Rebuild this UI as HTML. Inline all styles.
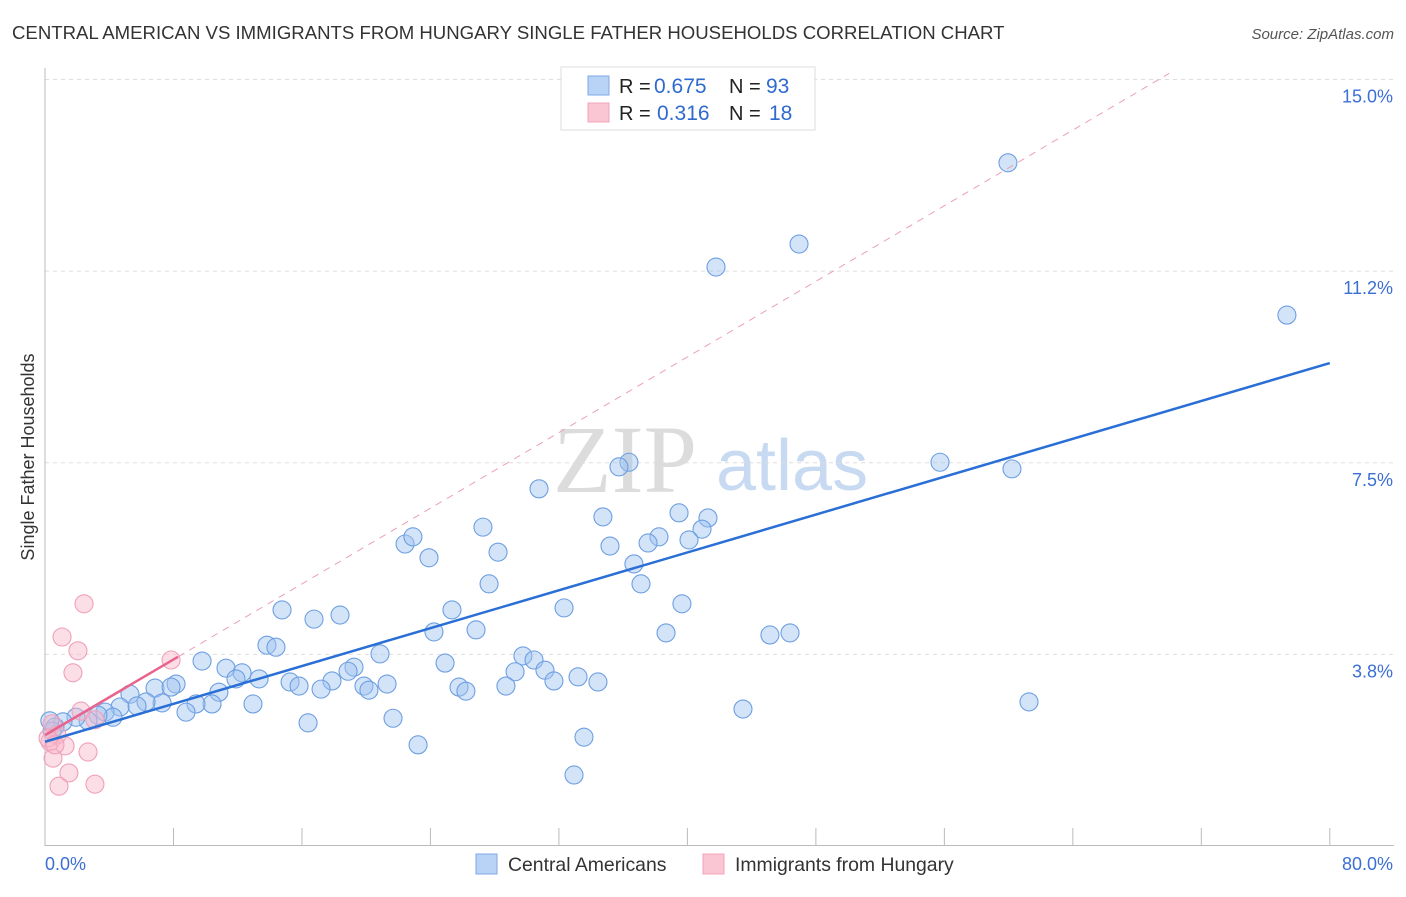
<!DOCTYPE html>
<html><head><meta charset="utf-8"><style>
body{margin:0;background:#fff;font-family:"Liberation Sans",sans-serif;}
svg text{font-family:"Liberation Sans",sans-serif;}
</style></head><body>
<svg id="chart" width="1406" height="892" xmlns="http://www.w3.org/2000/svg">
<text x="12" y="39" font-size="18.6" fill="#333">CENTRAL AMERICAN VS IMMIGRANTS FROM HUNGARY SINGLE FATHER HOUSEHOLDS CORRELATION CHART</text>
<text x="1394" y="39" font-size="15" fill="#555" font-style="italic" text-anchor="end">Source: ZipAtlas.com</text>
<g>
<text x="553" y="492" font-size="96" style="font-family:'Liberation Serif',serif" fill="#dcdcdc">ZIP</text>
<text x="716" y="490" font-size="72" fill="#c8daf2">atlas</text>
</g>
<text transform="translate(34,457) rotate(-90)" font-size="18" fill="#333" text-anchor="middle">Single Father Households</text>
<g id="grid"></g>
<g id="axes"></g>
<g id="marks"></g>
<g>
<rect x="561" y="67" width="254" height="63" fill="#fff" stroke="#ddd"/>
<rect x="588" y="76" width="21" height="19" fill="#b8d3f5" stroke="#7eaae6"/>
<rect x="588" y="103" width="21" height="19" fill="#fbc6d4" stroke="#f0a4ba"/>
<text x="619" y="93" font-size="20" fill="#222">R = <tspan x="654" fill="#2f6ad0" font-size="21">0.675</tspan><tspan x="729">N = </tspan><tspan x="766" fill="#2f6ad0" font-size="21">93</tspan></text>
<text x="619" y="120" font-size="20" fill="#222">R = <tspan x="657" fill="#2f6ad0" font-size="21">0.316</tspan><tspan x="729">N = </tspan><tspan x="769" fill="#2f6ad0" font-size="21">18</tspan></text>
</g>
<g>
<rect x="476" y="854" width="21" height="20" fill="#b8d3f5" stroke="#7eaae6"/>
<text x="508" y="871" font-size="19.4" fill="#333">Central Americans</text>
<rect x="703" y="854" width="21" height="20" fill="#fbc6d4" stroke="#f0a4ba"/>
<text x="735" y="871" font-size="19.4" fill="#333">Immigrants from Hungary</text>
</g>
</svg>
<script>
const blueX=[59.96,46.95,41.78,77.33,55.73,60.21,36.36,35.74,30.76,34.74,27.27,39.48,41.28,40.91,40.10,38.23,37.55,35.18,22.42,22.91,28.21,23.91,36.67,27.65,37.11,39.66,32.32,14.76,25.34,16.75,18.37,24.22,26.84,38.67,45.14,46.39,13.82,14.38,20.86,24.91,29.76,30.45,29.27,31.13,9.78,11.27,12.27,19.24,18.87,33.19,34.43,31.69,11.89,13.33,15.26,15.82,17.87,21.30,19.86,20.17,17.19,28.70,25.78,26.21,8.16,6.85,7.85,5.29,10.83,12.95,10.40,9.40,8.78,7.29,6.29,5.73,4.67,3.74,4.23,3.30,2.68,1.93,1.12,0.62,0.44,16.38,21.67,43.46,61.27,23.23,33.56,32.94,0.3];
const blueY=[13.37,11.78,11.33,10.39,7.51,7.38,7.51,7.42,6.99,6.44,6.24,6.52,6.42,6.20,5.99,6.05,5.93,5.87,5.91,6.05,5.75,5.64,5.52,5.13,5.13,4.74,4.66,4.62,4.62,4.44,4.52,4.19,4.23,4.17,4.13,4.17,3.93,3.89,3.76,3.58,3.72,3.64,3.41,3.44,3.62,3.48,3.39,3.50,3.42,3.31,3.21,3.23,3.27,3.27,3.21,3.13,3.23,3.17,3.13,3.05,3.07,3.13,3.11,3.03,3.17,3.09,3.11,2.97,3.01,2.78,2.78,2.78,2.62,2.80,2.82,2.74,2.72,2.62,2.52,2.56,2.45,2.52,2.43,2.33,2.25,2.41,2.50,2.68,2.82,1.98,2.13,1.39,2.45];
const pinkX=[2.43,1.06,2.05,1.74,7.85,2.24,3.11,0.44,0.75,0.31,1.25,0.50,2.68,1.49,0.87,3.11,0.19,0.62];
const pinkY=[4.74,4.09,3.82,3.39,3.64,2.64,2.47,2.39,2.17,2.04,1.96,1.72,1.84,1.43,1.17,1.21,2.11,1.98];
const yTicks=[3.8,7.5,11.2,15.0];
const yTickVals=[3.75,7.5,11.25,15];
const xTickLabels=["0.0%","80.0%"];
const blueTrend=[2.04,9.45]; // y at x=0 and x=80
const pinkTrend=[2.17,0.185]; // intercept, slope
const NS="http://www.w3.org/2000/svg";
const sx=v=>45+v*16.06, sy=v=>846-v*51.1;
function mk(tag,attrs,parent){const e=document.createElementNS(NS,tag);for(const k in attrs)e.setAttribute(k,attrs[k]);parent.appendChild(e);return e;}
const grid=document.getElementById('grid'),axes=document.getElementById('axes'),marks=document.getElementById('marks');
yTickVals.forEach((v,i)=>{
 const l=mk('line',{x1:45,x2:1394,y1:sy(v),y2:sy(v),stroke:'#ddd','stroke-dasharray':'4,4'},grid);
 
 
 const t=mk('text',{x:1393,y:sy(v)+23,'font-size':18,fill:'#3b6fd4','text-anchor':'end'},axes);
 t.textContent=yTicks[i].toFixed(1)+'%';
 
 
});
const ya=mk('line',{x1:45,x2:45,y1:68,y2:846,stroke:'#bbb'},axes);


const xa=mk('line',{x1:45,x2:1394,y1:845.5,y2:845.5,stroke:'#bbb'},axes);


for(let i=0;i<=10;i++){const v=i*8;const t=mk('line',{x1:sx(v),x2:sx(v),y1:828,y2:846,stroke:'#bbb'},axes);
 
 }
[[0,'start',45],[80,'end',1393]].forEach((a,i)=>{const t=mk('text',{x:a[2],y:870,'font-size':18,fill:'#3b6fd4','text-anchor':a[1]},axes);t.textContent=xTickLabels[i];
 
 });
blueX.forEach((x,i)=>{const c=mk('circle',{cx:sx(x),cy:sy(blueY[i]),r:9,fill:'rgba(160,196,240,0.45)',stroke:'#6d9fe2','stroke-width':1.1},marks);
 
 });
pinkX.forEach((x,i)=>{const c=mk('circle',{cx:sx(x),cy:sy(pinkY[i]),r:9,fill:'rgba(248,182,202,0.45)',stroke:'#f0a0b8','stroke-width':1.1},marks);
 
 });
const pd=mk('line',{x1:sx(8.28),y1:sy(pinkTrend[0]+pinkTrend[1]*8.28),x2:sx(70),y2:sy(pinkTrend[0]+pinkTrend[1]*70),stroke:'#eba0b5','stroke-dasharray':'7,6','stroke-width':1},marks);


const bl=mk('line',{x1:sx(0),y1:sy(blueTrend[0]),x2:sx(80),y2:sy(blueTrend[1]),stroke:'#2a6fd6','stroke-width':2.5},marks);


const pl=mk('line',{x1:sx(0),y1:sy(pinkTrend[0]),x2:sx(8.28),y2:sy(pinkTrend[0]+pinkTrend[1]*8.28),stroke:'#e8638e','stroke-width':2.5},marks);


</script>
</body></html>
